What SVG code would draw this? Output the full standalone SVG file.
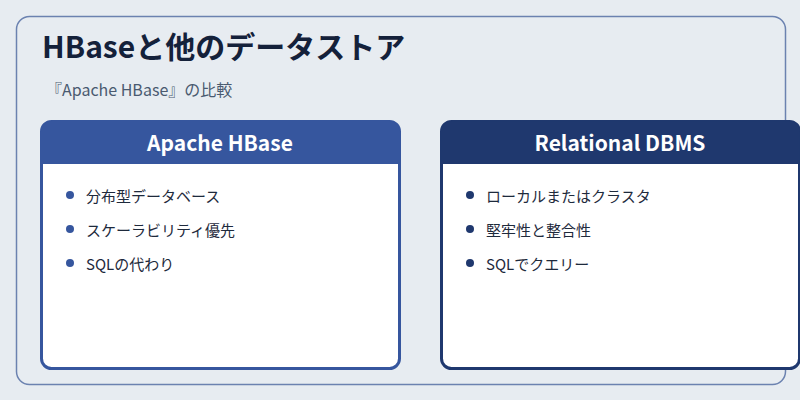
<svg xmlns="http://www.w3.org/2000/svg" width="800" height="400" viewBox="0 0 800 400">
<style>
text{font-family:"Noto Sans CJK JP","Noto Sans",sans-serif}
.t{font-size:15px;fill:#1e2a3c}
.h{font-size:21px;font-weight:bold;fill:#fff}
.card{fill:#fff;stroke-width:3}
</style>
<rect width="800" height="400" fill="#e7ecf1"/>
<rect x="16.5" y="16.5" width="769" height="368" rx="13" fill="none" stroke="#6b82b0" stroke-width="1.5"/>
<text x="42" y="58" font-size="30" font-weight="bold" fill="#14213a">HBaseと他のデータストア</text>
<text x="46" y="96" font-size="16" fill="#4a5a70">『Apache HBase』の比較</text>
<g id="hbase">
<rect class="card" x="41.5" y="121.5" width="358" height="247" rx="10" stroke="#36569e"/>
<path d="M41.5 164 V131.5 a10 10 0 0 1 10 -10 H389.5 a10 10 0 0 1 10 10 V164 Z" fill="#36569e"/>
<text class="h" x="220" y="151" text-anchor="middle">Apache HBase</text>
<g fill="#36569e"><circle cx="70" cy="195" r="4"/><circle cx="70" cy="229" r="4"/><circle cx="70" cy="263" r="4"/></g>
<text class="t" x="86" y="202">分布型データベース</text>
<text class="t" x="86" y="236">スケーラビリティ優先</text>
<text class="t" x="86" y="270">SQLの代わり</text>
</g>
<g id="rdbms">
<rect class="card" x="441.5" y="121.5" width="358" height="247" rx="10" stroke="#1f386e"/>
<path d="M441.5 164 V131.5 a10 10 0 0 1 10 -10 H789.5 a10 10 0 0 1 10 10 V164 Z" fill="#1f386e"/>
<text class="h" x="620" y="151" text-anchor="middle">Relational DBMS</text>
<g fill="#1f386e"><circle cx="470" cy="195" r="4"/><circle cx="470" cy="229" r="4"/><circle cx="470" cy="263" r="4"/></g>
<text class="t" x="486" y="202">ローカルまたはクラスタ</text>
<text class="t" x="486" y="236">堅牢性と整合性</text>
<text class="t" x="486" y="270">SQLでクエリー</text>
</g>
<g id="connectors"/>
</svg>
